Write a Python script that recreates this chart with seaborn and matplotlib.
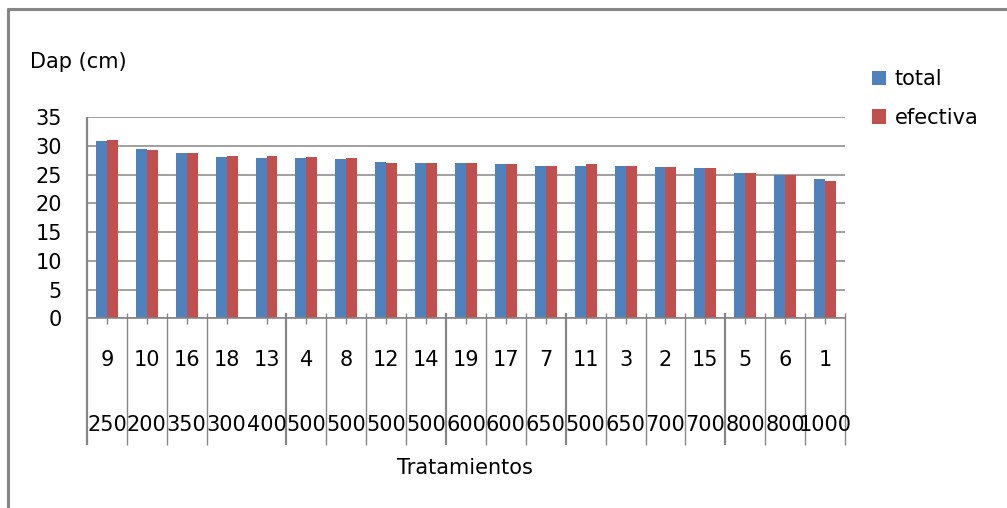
import matplotlib
matplotlib.use("Agg")
import matplotlib.pyplot as plt
import matplotlib.transforms as mtransforms
from matplotlib.lines import Line2D
import pandas as pd
import seaborn as sns

# Treatments (first level) and planting density (second level) per bar group
treatments = ["9", "10", "16", "18", "13", "4", "8", "12", "14", "19",
              "17", "7", "11", "3", "2", "15", "5", "6", "1"]
densities = ["250", "200", "350", "300", "400", "500", "500", "500", "500", "600",
             "600", "650", "500", "650", "700", "700", "800", "800", "1000"]

# Mean diameter at breast height (cm)
dap_total = [30.8, 29.4, 28.7, 28.0, 27.9, 27.9, 27.7, 27.2, 27.0, 27.0,
             26.8, 26.5, 26.5, 26.5, 26.3, 26.1, 25.3, 24.9, 24.2]
dap_efectiva = [31.0, 29.3, 28.7, 28.2, 28.2, 28.0, 27.9, 27.0, 27.0, 27.0,
                26.8, 26.5, 26.8, 26.5, 26.3, 26.1, 25.3, 24.9, 23.9]

series_names = ["total", "efectiva"]
y_ticks = [0, 5, 10, 15, 20, 25, 30, 35]

# Category separators below the axis (drawn before category index b); thick ones marked
separators = [1, 2, 3, 5, 6, 7, 8, 9, 10, 11, 12, 13, 14, 15, 16, 17, 18, 19]
thick_separators = [5, 9, 12, 16]

df = pd.DataFrame({
    "trat": treatments * 2,
    "serie": [series_names[0]] * len(treatments) + [series_names[1]] * len(treatments),
    "dap": dap_total + dap_efectiva,
})

sns.set_theme(style="white")
plt.rcParams["font.family"] = ["DejaVu Sans"]
FS = 15
GRAY = "#868686"

W, H = 1007, 508
fig = plt.figure(figsize=(W / 100, H / 100), dpi=100)
x0, x1, y_top, y_zero = 87, 845, 117, 318.3
ax = fig.add_axes([x0 / W, 1 - y_zero / H, (x1 - x0) / W, (y_zero - y_top) / H])

sns.barplot(data=df, x="trat", y="dap", hue="serie", order=treatments,
            hue_order=series_names, palette=["#4F81BD", "#C0504D"],
            width=0.55, errorbar=None, linewidth=0, saturation=1, ax=ax)

ax.set_xlim(-0.5, len(treatments) - 0.5)
ax.set_ylim(0, 35)
ax.set_yticks(y_ticks)
ax.set_yticklabels([str(t) for t in y_ticks], fontsize=FS, color="black")
ax.tick_params(axis="y", length=0, pad=18)
ax.yaxis.grid(True, color=GRAY, linewidth=1.1)
ax.set_axisbelow(True)

ax.set_xticks(range(len(treatments)))
ax.set_xticklabels([])
ax.tick_params(axis="x", direction="inout", length=8.6, width=1, color=GRAY,
               bottom=True)

for side in ["top", "right", "left"]:
    ax.spines[side].set_visible(False)
ax.spines["bottom"].set_color(GRAY)
ax.spines["bottom"].set_linewidth(1.2)

axes_h = y_zero - y_top
blend = mtransforms.blended_transform_factory(ax.transData, ax.transAxes)

# Two-level category labels
for i, (t, d) in enumerate(zip(treatments, densities)):
    ax.text(i, (y_zero - 360) / axes_h, t, transform=blend, ha="center",
            va="center", fontsize=FS, color="black")
    ax.text(i, (y_zero - 425) / axes_h, d, transform=blend, ha="center",
            va="center", fontsize=FS, color="black")

# Value axis line and separators between categories
ax.vlines([-0.5], (y_zero - 445) / axes_h, 1, transform=blend, colors=GRAY,
          linewidth=1.6, clip_on=False)
for b in separators:
    ax.vlines([b - 0.5], (y_zero - 445) / axes_h, (y_zero - 312.7) / axes_h,
              transform=blend, colors=GRAY,
              linewidth=1.6 if b in thick_separators else 1.0, clip_on=False)

ax.set_xlabel("Tratamientos", fontsize=FS, color="black", va="center")
ax.xaxis.set_label_coords((465 - x0) / (x1 - x0), (y_zero - 468) / axes_h)
ax.set_ylabel("Dap (cm)", fontsize=FS, color="black", rotation=0,
              ha="left", va="center")
ax.yaxis.set_label_coords((30 - x0) / (x1 - x0), (y_zero - 62) / axes_h)

leg = ax.legend(loc="upper left", bbox_to_anchor=(872 / W, 1 - 69 / H),
                bbox_transform=fig.transFigure, frameon=False, fontsize=FS,
                handlelength=0.68, handleheight=0.68, handletextpad=0.4,
                labelspacing=0.9, borderpad=0, borderaxespad=0)
for txt in leg.get_texts():
    txt.set_color("black")

# Chart-area frame (left and top edges)
fig.add_artist(Line2D([8 / W, 8 / W], [0, 1 - 9 / H], transform=fig.transFigure,
                      color=GRAY, linewidth=2.2))
fig.add_artist(Line2D([8 / W, 1], [1 - 9 / H, 1 - 9 / H], transform=fig.transFigure,
                      color=GRAY, linewidth=2.2))

fig.savefig("out.png", dpi=100, facecolor="white")
